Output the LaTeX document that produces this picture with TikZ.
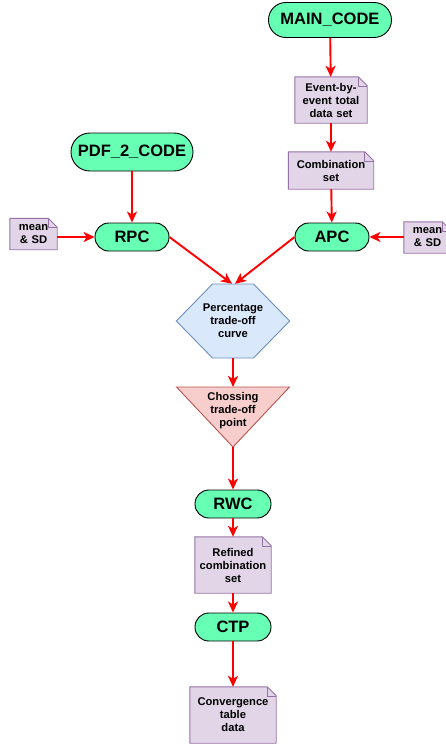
\documentclass[tikz,border=0pt]{standalone}
\usepackage{fontspec}
\setmainfont{Liberation Sans}
\usetikzlibrary{arrows.meta,backgrounds}
\definecolor{pill}{HTML}{66FFB3}
\definecolor{docfill}{HTML}{E1D5E7}
\definecolor{docline}{HTML}{9673A6}
\definecolor{hexfill}{HTML}{DAE8FC}
\definecolor{hexline}{HTML}{6C8EBF}
\definecolor{trifill}{HTML}{F8CECC}
\definecolor{triline}{HTML}{B85450}
\tikzset{
  pillbox/.style={draw=black, fill=pill, line width=0.9pt, rounded corners=13.9pt, inner sep=0pt,
    font=\fontsize{16.5}{19}\selectfont\bfseries},
  docbox/.style={inner sep=0pt, align=center, font=\fontsize{11.2}{13}\selectfont\bfseries},
  flow/.style={draw=red, line width=1.9pt, -{Stealth[length=11pt,width=10pt,inset=3pt]}},
  docstyle/.style={fill=docfill, draw=docline, line width=0.9pt},
}
\newcommand\mydocshape[1]{%
  \path[docstyle] (#1.north west) -- ([xshift=-9pt]#1.north east) -- ([yshift=-9pt]#1.north east)
    -- (#1.south east) -- (#1.south west) -- cycle;
  \draw[docline, line width=0.6pt] ([xshift=-9pt]#1.north east) -- ([xshift=-9pt,yshift=-9pt]#1.north east)
    -- ([yshift=-9pt]#1.north east);
}
\begin{document}
\begin{tikzpicture}[x=1pt,y=-1pt]
\useasboundingbox (0,0) rectangle (445,745);
% pills
\node[pillbox, minimum width=123pt, minimum height=35pt, rounded corners=17.4pt] (main) at (330,20) {MAIN\_CODE};
\node[pillbox, minimum width=122pt, minimum height=38pt, rounded corners=18.9pt] (pdf) at (132,152) {PDF\_2\_CODE};
\node[pillbox, minimum width=74pt, minimum height=28pt] (rpc) at (132,237) {RPC};
\node[pillbox, minimum width=74pt, minimum height=28pt] (apc) at (332,237) {APC};
\node[pillbox, minimum width=76pt, minimum height=28pt] (rwc) at (233,504) {RWC};
\node[pillbox, minimum width=76pt, minimum height=28pt] (ctp) at (233,627) {CTP};
% documents
\node[docbox, minimum width=72pt, minimum height=46pt, text width=68pt] (ev) at (331,100) {Event-by-\\event total\\data set};
\node[docbox, minimum width=85pt, minimum height=37pt, text width=80pt] (comb) at (331,170.5) {Combination\\set};
\node[docbox, minimum width=47pt, minimum height=31pt, text width=44pt] (msl) at (33.5,234) {mean\\\& SD};
\node[docbox, minimum width=47pt, minimum height=31pt, text width=44pt] (msr) at (427.5,237.5) {mean\\\& SD};
\node[docbox, minimum width=76pt, minimum height=56pt, text width=72pt] (ref) at (233,565) {Refined\\combination\\set};
\node[docbox, minimum width=86pt, minimum height=56pt, text width=82pt] (conv) at (233,715) {Convergence\\table\\data};
% hexagon and triangle
\node[docbox, minimum width=113pt, minimum height=74pt, text width=100pt] (hex) at (233,321) {Percentage\\trade-off\\curve};
\node[docbox, text width=90pt] (tri) at (233,411) {Chossing\\trade-off\\point};
\coordinate (trit) at (233,387);
\coordinate (trib) at (233,447);
\begin{scope}[on background layer]
  \foreach \d in {ev,comb,msl,msr,ref,conv} {\mydocshape{\d}}
  \path[fill=hexfill, draw=hexline, line width=0.9pt] (hex.west) -- (212.5,284) -- (253.5,284) -- (hex.east)
    -- (253.5,358) -- (212.5,358) -- cycle;
  \path[fill=trifill, draw=triline, line width=0.9pt] (176.5,387) -- (289.5,387) -- (trib) -- cycle;
\end{scope}
% connectors
\draw[flow] (main) -- (ev);
\draw[flow] (ev) -- (comb);
\draw[flow] (comb) -- (apc);
\draw[flow] (pdf) -- (rpc);
\draw[flow] (msl.east |- rpc.west) -- (rpc.west);
\draw[flow] (msr.west |- apc.east) -- (apc.east);
\draw[flow] (rpc.east) -- ([xshift=-1pt]hex.north);
\draw[flow] (apc.west) -- ([xshift=2pt]hex.north);
\draw[flow] (hex) -- (trit);
\draw[flow] (trib) -- (rwc);
\draw[flow] (rwc) -- (ref);
\draw[flow] (ref) -- (ctp);
\draw[flow] (ctp) -- (conv);
\end{tikzpicture}
\end{document}
